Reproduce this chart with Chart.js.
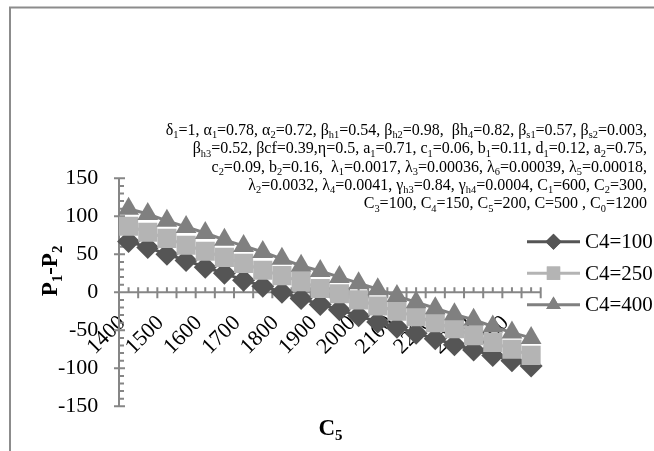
<!DOCTYPE html>
<html>
<head>
<meta charset="utf-8">
<style>
html,body{margin:0;padding:0;background:#fff;}
canvas{display:block;}
</style>
<script src="https://cdn.jsdelivr.net/npm/chart.js@4.4.1/dist/chart.umd.min.js"></script>
</head>
<body>
<canvas id="c" width="654" height="451"></canvas>
<script>
// ---------- data ----------
const categories = [1400,1450,1500,1550,1600,1650,1700,1750,1800,1850,1900,1950,2000,2050,2100,2150,2200,2250,2300,2350,2400,2450];
const tickLabels = ['1400','1500','1600','1700','1800','1900','2000','2100','2200','2300','2400'];
const yTicks = [-150,-100,-50,0,50,100,150];
const seriesNames = ['C4=100','C4=250','C4=400'];
const c4_100 = [67,59,50,42,33,25,16,8,0,-8,-16,-23,-31,-39,-46,-54,-61,-69,-76,-83,-90,-97];
const c4_250 = [87,79,71,62,54,46,38,29,22,14,5,-2,-10,-18,-25,-32,-40,-48,-57,-66,-75,-83];
const c4_400 = [110,103,94,86,78,69,61,53,44,35,28,20,12,4,-5,-13,-21,-29,-36,-45,-53,-60];
const yTitle = 'P_{1}-P_{2}';
const xTitle = 'C_{5}';
const annotationLines = [
  'δ_{1}=1, α_{1}=0.78, α_{2}=0.72, β_{h1}=0.54, β_{h2}=0.98,  βh_{4}=0.82, β_{s1}=0.57, β_{s2}=0.003,',
  'β_{h3}=0.52, βcf=0.39,η=0.5, a_{1}=0.71, c_{1}=0.06, b_{1}=0.11, d_{1}=0.12, a_{2}=0.75,',
  'c_{2}=0.09, b_{2}=0.16,  λ_{1}=0.0017, λ_{3}=0.00036, λ_{6}=0.00039, λ_{5}=0.00018,',
  'λ_{2}=0.0032, λ_{4}=0.0041, γ_{h3}=0.84, γ_{h4}=0.0004, C_{1}=600, C_{2}=300,',
  'C_{3}=100, C_{4}=150, C_{5}=200, C=500 , C_{0}=1200'
];

// ---------- styles ----------
const FONT = '"Liberation Serif", "Times New Roman", serif';
const COLORS = ['#555555', '#b4b4b4', '#808080'];
const STYLES = ['rectRot', 'rect', 'triangle'];
const RADII = [11.5, 13.5, 12];
const AXIS_COLOR = '#868686';

// ---------- rich text helpers ----------
function parseRich(s) {
  const segs = []; const re = /_\{([^}]*)\}/g; let last = 0, m;
  while ((m = re.exec(s))) {
    if (m.index > last) segs.push({t: s.slice(last, m.index), sub: false});
    segs.push({t: m[1], sub: true});
    last = re.lastIndex;
  }
  if (last < s.length) segs.push({t: s.slice(last), sub: false});
  return segs;
}
function setFont(ctx, size, weight, sub) {
  ctx.font = `${weight} ${sub ? size * 0.65 : size}px ${FONT}`;
}
function drawRich(ctx, s, x, y, size, weight, align) {
  const segs = parseRich(s);
  let w = 0;
  for (const g of segs) { setFont(ctx, size, weight, g.sub); g.w = ctx.measureText(g.t).width; w += g.w; }
  let cx = align === 'right' ? x - w : (align === 'center' ? x - w / 2 : x);
  ctx.textAlign = 'left'; ctx.textBaseline = 'alphabetic'; ctx.fillStyle = '#000';
  for (const g of segs) {
    setFont(ctx, size, weight, g.sub);
    ctx.fillText(g.t, cx, y + (g.sub ? size * 0.2 : 0));
    cx += g.w;
  }
}

// ---------- plugin: frame, axes, titles, annotation, legend ----------
const decor = {
  id: 'decor',
  beforeDraw(chart) {
    const ctx = chart.ctx;
    ctx.save();
    ctx.fillStyle = '#fff';
    ctx.fillRect(0, 0, chart.width, chart.height);
    ctx.strokeStyle = '#8c8c8c';
    ctx.lineWidth = 2;
    ctx.strokeRect(10, 7.5, 900, 700);
    ctx.restore();
  },
  beforeDatasetsDraw(chart) {
    const ctx = chart.ctx;
    const xs = chart.scales.x, ys = chart.scales.y;
    const area = chart.chartArea;
    const y0 = ys.getPixelForValue(0);
    ctx.save();
    ctx.strokeStyle = AXIS_COLOR;
    ctx.lineWidth = 2;
    ctx.beginPath();
    ctx.moveTo(area.left, area.top); ctx.lineTo(area.left, area.bottom);
    for (let v = ys.min; v <= ys.max; v += 10) {
      const py = ys.getPixelForValue(v);
      if (v % 50 === 0) { ctx.moveTo(area.left - 5, py); ctx.lineTo(area.left + 6, py); }
      else { ctx.moveTo(area.left, py); ctx.lineTo(area.left + 5, py); }
    }
    ctx.moveTo(area.left, y0); ctx.lineTo(area.right, y0);
    const n = categories.length;
    for (let k = 0; k <= n; k++) {
      const px = xs.getPixelForValue(k - 0.5);
      ctx.moveTo(px, y0 - 5); ctx.lineTo(px, y0 + 6);
    }
    for (let k = 0; k < n; k++) {
      const px = xs.getPixelForValue(k);
      ctx.moveTo(px, y0 - 5); ctx.lineTo(px, y0);
    }
    ctx.stroke();
    ctx.restore();
  },
  afterDraw(chart) {
    const ctx = chart.ctx;
    ctx.save();
    annotationLines.forEach((line, i) => {
      drawRich(ctx, line, 647, 135 + i * 18.33, 16, 'normal', 'right');
    });
    ctx.save();
    ctx.translate(57, 271);
    ctx.rotate(-Math.PI / 2);
    drawRich(ctx, yTitle, 0, 0, 23, 'bold', 'center');
    ctx.restore();
    drawRich(ctx, xTitle, 330.5, 435, 23, 'bold', 'center');
    const ly = [241.7, 273.2, 304.8];
    chart.data.datasets.forEach((ds, i) => {
      const y = ly[i];
      ctx.strokeStyle = ds.borderColor; ctx.lineWidth = 3;
      ctx.beginPath(); ctx.moveTo(527, y); ctx.lineTo(580, y); ctx.stroke();
      ctx.fillStyle = ds.pointBackgroundColor;
      Chart.helpers.drawPoint(ctx, {pointStyle: ds.pointStyle, radius: ds.pointRadius * 0.7, rotation: 0, borderWidth: 0}, 553.5, y);
      ctx.fill();
      ctx.fillStyle = '#000';
      ctx.font = `21px ${FONT}`;
      ctx.textAlign = 'left'; ctx.textBaseline = 'middle';
      ctx.fillText(ds.label, 585, y + 1);
    });
    ctx.restore();
  }
};

const seriesData = [c4_100, c4_250, c4_400];
const datasets = seriesData.map((d, i) => ({
  label: seriesNames[i],
  data: d,
  borderColor: COLORS[i],
  backgroundColor: COLORS[i],
  pointBackgroundColor: COLORS[i],
  pointBorderColor: COLORS[i],
  pointBorderWidth: 0,
  pointStyle: STYLES[i],
  pointRadius: RADII[i],
  pointHoverRadius: RADII[i],
  borderWidth: 3,
  tension: 0,
  fill: false,
  order: 2 - i
}));

new Chart(document.getElementById('c'), {
  type: 'line',
  data: { labels: categories.map(String), datasets },
  options: {
    responsive: false,
    animation: false,
    devicePixelRatio: 1,
    events: [],
    layout: { padding: { left: 0, top: 178.3, right: 113.3, bottom: 44.7 } },
    plugins: { legend: { display: false }, tooltip: { enabled: false }, title: { display: false } },
    scales: {
      x: {
        type: 'category',
        offset: true,
        position: { y: 0 },
        z: 1,
        grid: { display: false, drawTicks: false },
        border: { display: false },
        ticks: {
          autoSkip: false,
          minRotation: 45,
          maxRotation: 45,
          padding: 18,
          labelOffset: -6.5,
          color: '#000',
          font: { family: FONT, size: 22 },
          callback: function(val, idx) {
            const c = String(categories[idx]);
            return tickLabels.includes(c) ? c : '';
          }
        }
      },
      y: {
        min: yTicks[0],
        max: yTicks[yTicks.length - 1],
        afterFit: (scale) => { scale.width = 119; },
        afterBuildTicks: (scale) => { scale.ticks = yTicks.map(v => ({value: v})); },
        grid: { display: false, drawTicks: false },
        border: { display: false },
        ticks: {
          padding: 20.7,
          color: '#000',
          font: { family: FONT, size: 22 }
        }
      }
    }
  },
  plugins: [decor]
});
</script>
</body>
</html>
